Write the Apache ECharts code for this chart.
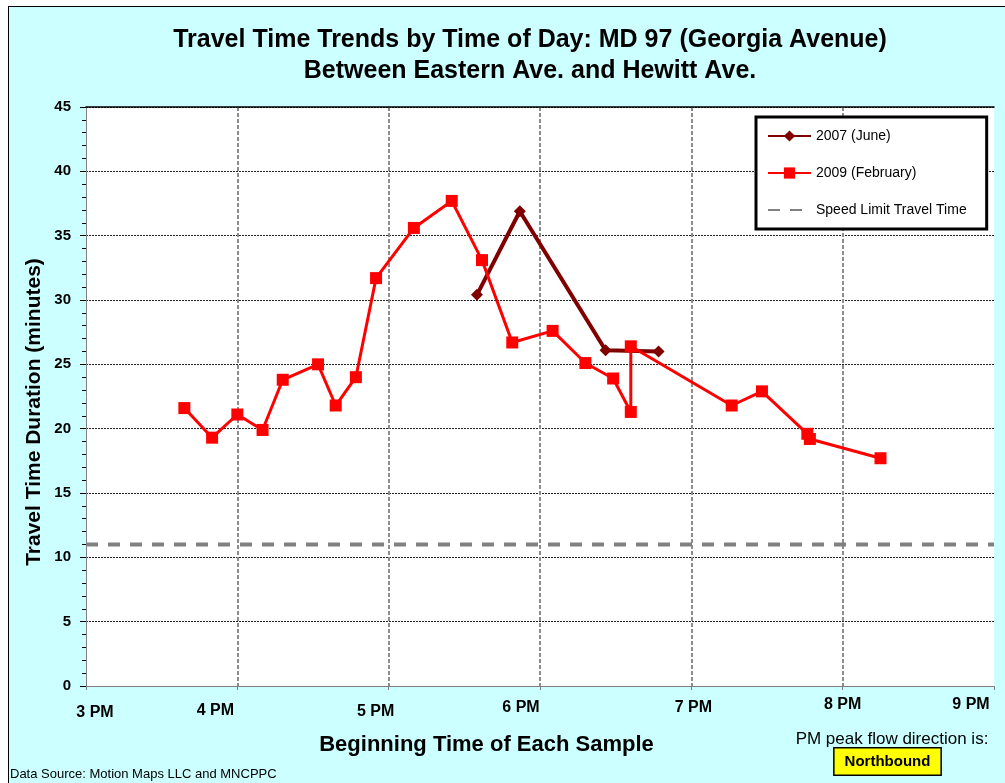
<!DOCTYPE html>
<html>
<head>
<meta charset="utf-8">
<title>Travel Time Trends by Time of Day: MD 97</title>
<script src="https://cdn.jsdelivr.net/npm/echarts@6/dist/echarts.min.js"></script>
<style>
  html, body { margin: 0; padding: 0; background: #fff; }
  #bg {
    position: absolute; left: 8px; top: 6px; right: 0; bottom: 0;
    background: #ccffff;
    border-left: 1px solid #000;
    border-top: 1px solid #000;
  }
  #chart { position: absolute; left: 0; top: 0; width: 1005px; height: 783px; }
</style>
</head>
<body>
<div id="bg"></div>
<div id="chart"></div>
<script>
// tick values (hour of day) and their labels
const hourTicks = [15, 16, 17, 18, 19, 20, 21]
const hourLabels = ['3 PM', '4 PM', '5 PM', '6 PM', '7 PM', '8 PM', '9 PM']

// 2007 (June) samples: start time, travel time in minutes
const times2007 = ['17:35', '17:52', '18:26', '18:47']
const minutes2007 = [30.4, 36.9, 26.1, 26.0]

// 2009 (February) samples
const times2009 = ['15:39', '15:50', '16:00', '16:10', '16:18', '16:32', '16:39', '16:47',
  '16:55', '17:10', '17:25', '17:37', '17:49', '18:05', '18:18', '18:29', '18:36', '18:36',
  '19:16', '19:28', '19:46', '19:47', '20:15']
const minutes2009 = [21.6, 19.3, 21.1, 19.9, 23.8, 25.0, 21.8, 24.0,
  31.7, 35.6, 37.7, 33.1, 26.7, 27.6, 25.1, 23.9, 21.3, 26.4,
  21.8, 22.9, 19.6, 19.2, 17.7]

// speed limit travel time, drawn across the whole day window
const speedLimitMinutes = 11

const seriesNames = ['2007 (June)', '2009 (February)', 'Speed Limit Travel Time']

function toHours (t) {
  const [h, m] = t.split(':').map(Number)
  return h + m / 60
}

function pairs (times, values) {
  return times.map((t, i) => [toHours(t), values[i]])
}

const FONT = "Arial, 'Liberation Sans', sans-serif"

// the x tick labels in the original sit a little off their ticks: [dx, dy]
const labelNudge = [[9, 8], [-22, 6], [-13, 7], [-19, 3], [2, 3], [0, 0], [-23, 0]]
const xRich = {}
hourTicks.forEach((h, i) => {
  const [dx, dy] = labelNudge[i]
  xRich['h' + h] = {
    fontFamily: FONT,
    fontSize: 16,
    fontWeight: 'bold',
    color: '#000',
    padding: [dy, dx < 0 ? -2 * dx : 0, 0, dx > 0 ? 2 * dx : 0]
  }
})

const chart = echarts.init(document.getElementById('chart'))

const option = {
  animation: false,
  backgroundColor: 'transparent',
  grid: {
    left: 86,
    right: 11,
    top: 107,
    bottom: 97,
    show: true,
    backgroundColor: '#fff',
    borderWidth: 0
  },
  legend: {
    data: [
      { name: seriesNames[0] },
      { name: seriesNames[1] },
      // no marker on the speed limit sample, only the dashed line
      { name: seriesNames[2], itemStyle: { opacity: 0 } }
    ],
    orient: 'vertical',
    left: 756,
    top: 117,
    padding: [12, 20, 12, 11],
    itemWidth: 43,
    itemHeight: 14,
    itemGap: 23,
    backgroundColor: '#fff',
    borderColor: '#000',
    borderWidth: 3,
    selectedMode: false,
    textStyle: {
      fontFamily: FONT,
      fontSize: 14,
      color: '#000'
    }
  },
  xAxis: [
    {
      type: 'value',
      min: hourTicks[0],
      max: hourTicks[hourTicks.length - 1],
      interval: 1,
      axisLine: { show: true, lineStyle: { color: '#808080', width: 1 } },
      axisTick: { show: true, length: 4, lineStyle: { color: '#808080' } },
      axisLabel: {
        margin: 11,
        showMinLabel: true,
        showMaxLabel: true,
        hideOverlap: false,
        formatter: function (value) {
          const i = hourTicks.indexOf(value)
          return '{h' + value + '|' + hourLabels[i] + '}'
        },
        rich: xRich
      },
      splitLine: {
        show: true,
        showMinLine: false,
        showMaxLine: false,
        lineStyle: { color: '#8c8c8c', width: 2, type: [4, 2] }
      }
    },
    {
      // plain black rule along the top of the plot area
      type: 'value',
      position: 'top',
      min: hourTicks[0],
      max: hourTicks[hourTicks.length - 1],
      axisLine: { show: true, lineStyle: { color: '#000', width: 1.5 } },
      axisTick: { show: false },
      axisLabel: { show: false },
      splitLine: { show: false }
    }
  ],
  yAxis: {
    type: 'value',
    min: 0,
    max: 45,
    interval: 5,
    axisLine: { show: true, lineStyle: { color: '#808080', width: 1 } },
    axisTick: { show: true, length: 6, lineStyle: { color: '#000' } },
    minorTick: { show: true, splitNumber: 5, length: 4, lineStyle: { color: '#000' } },
    axisLabel: {
      margin: 15,
      fontFamily: FONT,
      fontSize: 15,
      fontWeight: 'bold',
      color: '#000'
    },
    splitLine: {
      show: true,
      showMinLine: false,
      lineStyle: { color: '#222', width: 1, type: [2, 1] }
    }
  },
  series: [
    {
      name: seriesNames[0],
      type: 'line',
      data: pairs(times2007, minutes2007),
      symbol: 'diamond',
      symbolSize: 12,
      lineStyle: { color: '#800000', width: 4 },
      itemStyle: { color: '#800000' }
    },
    {
      name: seriesNames[1],
      type: 'line',
      data: pairs(times2009, minutes2009),
      symbol: 'rect',
      symbolSize: 12,
      lineStyle: { color: '#ff0000', width: 3 },
      itemStyle: { color: '#ff0000' }
    },
    {
      name: seriesNames[2],
      type: 'line',
      data: [[hourTicks[0], speedLimitMinutes], [hourTicks[hourTicks.length - 1], speedLimitMinutes]],
      symbol: 'none',
      lineStyle: { color: '#808080', width: 4, type: [12, 10] },
      itemStyle: { color: '#808080' }
    }
  ],
  graphic: [
    {
      type: 'text',
      x: 530,
      y: 40,
      style: {
        text: 'Travel Time Trends by Time of Day: MD 97 (Georgia Avenue)',
        font: 'bold 25px ' + FONT,
        fill: '#000',
        align: 'center',
        verticalAlign: 'middle'
      }
    },
    {
      type: 'text',
      x: 530,
      y: 71,
      style: {
        text: 'Between Eastern Ave. and Hewitt Ave.',
        font: 'bold 25px ' + FONT,
        fill: '#000',
        align: 'center',
        verticalAlign: 'middle'
      }
    },
    {
      type: 'text',
      x: 34.5,
      y: 412,
      rotation: Math.PI / 2,
      style: {
        text: 'Travel Time Duration (minutes)',
        font: 'bold 21px ' + FONT,
        fill: '#000',
        align: 'center',
        verticalAlign: 'middle'
      }
    },
    {
      type: 'text',
      x: 486.5,
      y: 745,
      style: {
        text: 'Beginning Time of Each Sample',
        font: 'bold 22px ' + FONT,
        fill: '#000',
        align: 'center',
        verticalAlign: 'middle'
      }
    },
    {
      type: 'text',
      x: 10,
      y: 774,
      style: {
        text: 'Data Source: Motion Maps LLC and MNCPPC',
        font: '13px ' + FONT,
        fill: '#000',
        align: 'left',
        verticalAlign: 'middle'
      }
    },
    {
      type: 'text',
      x: 892,
      y: 739,
      style: {
        text: 'PM peak flow direction is:',
        font: '17px ' + FONT,
        fill: '#000',
        align: 'center',
        verticalAlign: 'middle'
      }
    },
    {
      type: 'text',
      x: 887.5,
      y: 761.5,
      style: {
        text: 'Northbound',
        font: 'bold 15px ' + FONT,
        fill: '#000',
        align: 'center',
        verticalAlign: 'middle',
        backgroundColor: '#ffff00',
        borderColor: '#000',
        borderWidth: 1.5,
        padding: [6, 10, 5, 10]
      }
    }
  ]
}

chart.setOption(option)
</script>
</body>
</html>
